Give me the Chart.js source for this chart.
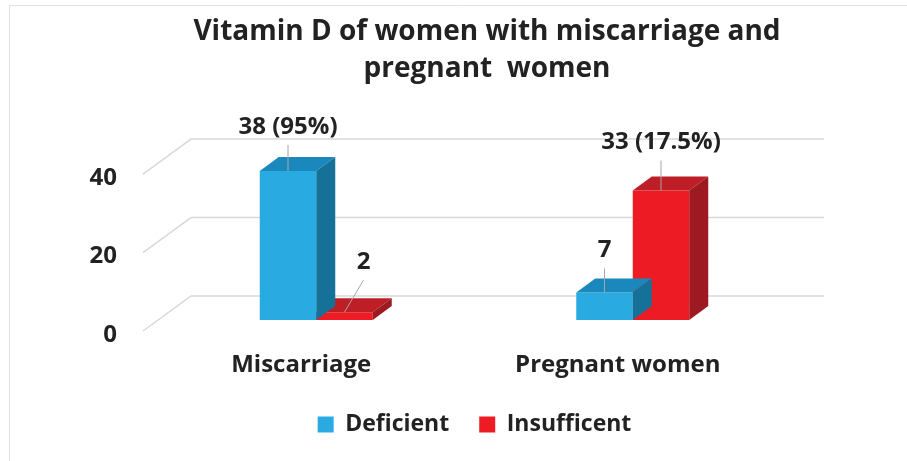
<!DOCTYPE html>
<html>
<head>
<meta charset="utf-8">
<script src="https://cdn.jsdelivr.net/npm/chart.js@4.4.1/dist/chart.umd.min.js"></script>
<style>
  html, body { margin: 0; padding: 0; background: #ffffff; }
  #wrap { width: 907px; height: 461px; position: relative; }
</style>
</head>
<body>
<div id="wrap"><canvas id="c" width="907" height="461"></canvas></div>
<script>
// ---- data ----
const categories = ["Miscarriage", "Pregnant women"];
const seriesNames = ["Deficient", "Insufficent"];
const deficientValues = [38, 7];
const insufficientValues = [2, 33];
const deficientLabels = ["38 (95%)", "7"];
const insufficientLabels = ["2", "33 (17.5%)"];
const yTicks = [0, 20, 40];
const titleLines = ["Vitamin D of women with miscarriage and", "pregnant  women"];

// ---- styles ----
const FONT = "'Open Sans', Lato, 'DejaVu Sans', sans-serif";
const TEXT = "#222222";
const colors = [
  { front: "#29ABE2", top: "#1A88BD", side: "#157198" },
  { front: "#ED1C24", top: "#BE1E26", side: "#9D1B20" }
];
// 3D geometry (relative to the bar plane)
const depth3d = { back: { dx: 33, dy: -24 }, front: { dx: -15, dy: 11 }, bar: { dx: 19, dy: -14 } };
const labelOffsets = [
  [{ dx: 0, dy: -44 }, { dx: 0, dy: -42 }],
  [{ dx: 19, dy: -50 }, { dx: 0, dy: -48 }]
];
const labelTexts = [deficientLabels, insufficientLabels];

const frame3d = {
  id: "frame3d",
  beforeDraw(chart) {
    const ctx = chart.ctx;
    ctx.save();
    ctx.fillStyle = "#ffffff";
    ctx.fillRect(0, 0, chart.width, chart.height);
    ctx.strokeStyle = "#e3e3e3";
    ctx.lineWidth = 1;
    ctx.beginPath();
    ctx.moveTo(9.5, chart.height);
    ctx.lineTo(9.5, 5.5);
    ctx.lineTo(chart.width, 5.5);
    ctx.stroke();
    ctx.restore();
  },
  beforeDatasetsDraw(chart) {
    const ctx = chart.ctx, y = chart.scales.y, a = chart.chartArea;
    const b = depth3d.back, f = depth3d.front;
    ctx.save();
    ctx.strokeStyle = "#d9d9d9";
    ctx.lineWidth = 1.5;
    yTicks.forEach(v => {
      const py = y.getPixelForValue(v);
      ctx.beginPath();
      ctx.moveTo(a.left + f.dx, py + f.dy);
      ctx.lineTo(a.left + b.dx, py + b.dy);
      ctx.lineTo(a.right + b.dx, py + b.dy);
      ctx.stroke();
    });
    ctx.restore();
  },
  afterDatasetDraw(chart, args) {
    const ctx = chart.ctx, i = args.index, c = colors[i], d = depth3d.bar;
    const meta = chart.getDatasetMeta(i);
    ctx.save();
    meta.data.forEach(bar => {
      const { x, y, base, width } = bar.getProps(["x", "y", "base", "width"], true);
      const l = x - width / 2, r = x + width / 2;
      ctx.fillStyle = c.top;
      ctx.beginPath();
      ctx.moveTo(l, y); ctx.lineTo(l + d.dx, y + d.dy);
      ctx.lineTo(r + d.dx, y + d.dy); ctx.lineTo(r, y); ctx.closePath();
      ctx.fill();
      ctx.fillStyle = c.side;
      ctx.beginPath();
      ctx.moveTo(r, y); ctx.lineTo(r + d.dx, y + d.dy);
      ctx.lineTo(r + d.dx, base + d.dy); ctx.lineTo(r, base); ctx.closePath();
      ctx.fill();
    });
    ctx.restore();
  },
  afterDraw(chart) {
    const ctx = chart.ctx;
    ctx.save();
    chart.data.datasets.forEach((ds, i) => {
      const meta = chart.getDatasetMeta(i);
      meta.data.forEach((bar, j) => {
        const { x, y } = bar.getProps(["x", "y"], true);
        const o = labelOffsets[i][j];
        const lx = x + o.dx, ly = y + o.dy;
        ctx.strokeStyle = "#a6a6a6";
        ctx.lineWidth = 1;
        ctx.beginPath();
        ctx.moveTo(lx, ly + 18);
        ctx.lineTo(x, y);
        ctx.stroke();
        ctx.fillStyle = TEXT;
        ctx.font = "bold 24px " + FONT;
        ctx.textAlign = "center";
        ctx.textBaseline = "middle";
        ctx.fillText(labelTexts[i][j], lx, ly);
      });
    });
    ctx.restore();
  }
};

new Chart(document.getElementById("c"), {
  type: "bar",
  data: {
    labels: categories,
    datasets: [
      { label: seriesNames[0], data: deficientValues, backgroundColor: colors[0].front, borderWidth: 0 },
      { label: seriesNames[1], data: insufficientValues, backgroundColor: colors[1].front, borderWidth: 0 }
    ]
  },
  options: {
    responsive: false,
    animation: false,
    devicePixelRatio: 1,
    layout: { padding: { left: 67, right: 0, top: 0, bottom: 18 } },
    datasets: { bar: { barPercentage: 1, categoryPercentage: 0.357 } },
    plugins: {
      title: {
        display: true,
        text: titleLines,
        color: TEXT,
        font: { family: FONT, size: 28, weight: "bold", lineHeight: 1.34 },
        padding: { top: 13, bottom: 75 }
      },
      legend: {
        display: true,
        position: "bottom",
        fullSize: false,
        maxHeight: 60,
        labels: {
          color: TEXT,
          font: { family: FONT, size: 23, weight: "bold" },
          boxWidth: 16,
          boxHeight: 16,
          padding: 30,
          useBorderRadius: false
        }
      },
      tooltip: { enabled: false }
    },
    scales: {
      x: {
        grid: { display: false, drawTicks: false },
        border: { display: false },
        ticks: {
          color: TEXT,
          font: { family: FONT, size: 24, weight: "bold" },
          labelOffset: -15,
          padding: 31,
          maxRotation: 0
        },
        afterFit(s) { s.height = 63; }
      },
      y: {
        min: 0,
        max: 40,
        grid: { display: false, drawTicks: false },
        border: { display: false },
        ticks: {
          stepSize: 20,
          color: TEXT,
          font: { family: FONT, size: 24, weight: "bold" },
          labelOffset: 15,
          padding: 41
        },
        afterFit(s) { s.width = 91; }
      },
      yRight: {
        position: "right",
        display: true,
        min: 0,
        max: 40,
        grid: { display: false, drawTicks: false },
        border: { display: false },
        ticks: { display: false },
        afterFit(s) { s.width = 116; }
      }
    }
  },
  plugins: [frame3d]
});
</script>
</body>
</html>
